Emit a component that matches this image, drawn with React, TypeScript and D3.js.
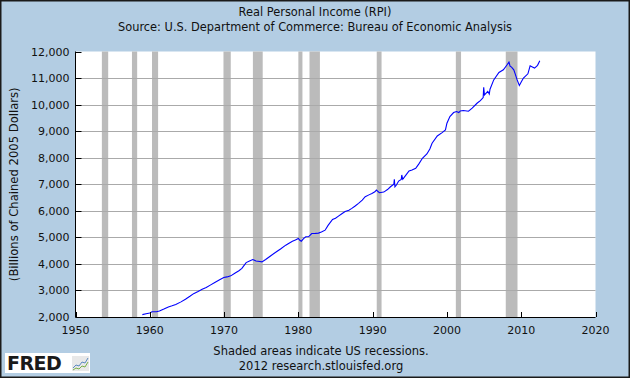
import React, { useEffect } from "react";
import * as d3 from "d3";

const W = 630;
const H = 378;

const TITLE = "Real Personal Income (RPI)";
const SUBTITLE = "Source: U.S. Department of Commerce: Bureau of Economic Analysis";
const Y_TITLE = "(Billions of Chained 2005 Dollars)";
const FOOT1 = "Shaded areas indicate US recessions.";
const FOOT2 = "2012 research.stlouisfed.org";

const xTicks = [1950, 1960, 1970, 1980, 1990, 2000, 2010, 2020];
const yTicks = [2000, 3000, 4000, 5000, 6000, 7000, 8000, 9000, 10000, 11000, 12000];

const recessionStarts = [1953.55, 1957.6, 1960.3, 1969.92, 1973.88, 1980.0, 1981.5, 1990.55, 2001.2, 2007.92];
const recessionEnds = [1954.4, 1958.3, 1961.12, 1970.9, 1975.2, 1980.55, 1982.9, 1991.2, 2001.9, 2009.5];

const rpiYears = [
  1959.0, 1959.5, 1960.0, 1960.3, 1960.9, 1961.3, 1961.9, 1962.5, 1963.0, 1963.5,
  1964.2, 1964.8, 1965.4, 1965.9, 1966.5, 1967.05, 1967.6, 1968.2, 1968.75, 1969.4,
  1969.96, 1970.4, 1970.9, 1971.5, 1972.0, 1972.4, 1972.97, 1973.5, 1973.86, 1974.3,
  1974.8, 1975.1, 1975.6, 1976.2, 1976.9, 1977.6, 1978.3, 1978.8, 1979.2, 1979.6,
  1980.0, 1980.2, 1980.4, 1980.7, 1981.0, 1981.4, 1981.8, 1982.3, 1982.7, 1983.1,
  1983.6, 1984.0, 1984.6, 1985.0, 1985.4, 1985.9, 1986.3, 1986.8, 1987.2, 1987.6,
  1988.1, 1988.6, 1989.0, 1989.5, 1989.9, 1990.3, 1990.5, 1990.9, 1991.5, 1992.0,
  1992.4, 1992.85, 1992.92, 1993.0, 1993.2, 1993.5, 1993.85, 1993.92, 1994.05, 1994.5,
  1994.9, 1995.3, 1995.8, 1996.2, 1996.7, 1997.3, 1997.7, 1998.0, 1998.7, 1999.35,
  1999.8, 2000.0, 2000.4, 2000.9, 2001.3, 2001.6, 2001.8, 2002.2, 2002.9, 2003.4,
  2004.05, 2004.5, 2004.88, 2004.95, 2005.05, 2005.5, 2005.7, 2005.8, 2006.3, 2007.0,
  2007.6, 2008.1, 2008.35, 2008.5, 2008.7, 2009.0, 2009.2, 2009.45, 2009.75, 2010.0,
  2010.3, 2010.9, 2011.2, 2011.5, 2011.8, 2012.2, 2012.5,
];

const rpiValues = [
  2090, 2120, 2150, 2195, 2200, 2225, 2300, 2380, 2420, 2470,
  2570, 2670, 2780, 2880, 2960, 3045, 3110, 3210, 3300, 3400,
  3490, 3510, 3550, 3660, 3740, 3830, 4050, 4120, 4165, 4110,
  4090, 4075, 4165, 4290, 4430, 4560, 4705, 4790, 4855, 4900,
  4960, 4890, 4855, 4950, 5020, 5030, 5145, 5150, 5160, 5200,
  5270, 5450, 5675, 5720, 5800, 5900, 5975, 6020, 6090, 6170,
  6280, 6400, 6530, 6600, 6655, 6715, 6780, 6680, 6705, 6800,
  6905, 7000, 7185, 6900, 6970, 7120, 7180, 7350, 7185, 7350,
  7500, 7540, 7600, 7760, 7980, 8140, 8330, 8545, 8820, 8945,
  9045, 9300, 9550, 9700, 9740, 9700, 9760, 9775, 9750, 9865,
  10050, 10150, 10265, 10655, 10365, 10500, 10400, 10580, 10930, 11210,
  11310, 11500, 11600, 11450, 11410, 11310, 11150, 10930, 10720, 10850,
  11000, 11160, 11460, 11420, 11375, 11480, 11650,
];

const FONT = "'DejaVu Sans', Verdana, sans-serif";

export default function App() {
  useEffect(() => {
    document.body.style.margin = "0";
  }, []);

  const left = 75.5;
  const right = 595.5;
  const top = 51.5;
  const bottom = 317;

  const x = d3.scaleLinear().domain([1950, 2020]).range([left, right]);
  const y = d3.scaleLinear().domain([2000, 12000]).range([bottom, top]);

  const pts = rpiYears.map((yr, i) => [yr, rpiValues[i]] as [number, number]);
  const line = d3
    .line<[number, number]>()
    .x((d) => x(d[0]))
    .y((d) => y(d[1]));

  const fmt = d3.format(",");
  const py = (t: number) => Math.round(y(t)) + 0.5;

  return (
    <svg
      width={W}
      height={H}
      style={{ position: "absolute", left: 0, top: 0, display: "block" }}
      fontFamily={FONT}
    >
      <rect x={0.75} y={0.75} width={W - 1.5} height={H - 1.5} fill="#B3CDE3" stroke="#1a1a1a" strokeWidth={1.5} />
      <text x={315} y={16} textAnchor="middle" fontSize={11.4} fill="#111">{TITLE}</text>
      <text x={315} y={31} textAnchor="middle" fontSize={11.4} fill="#111">{SUBTITLE}</text>

      <rect x={left} y={top} width={right - left} height={bottom - top} fill="#ffffff" />
      {recessionStarts.map((s, i) => (
        <rect key={"r" + i} x={x(s)} y={top} width={x(recessionEnds[i]) - x(s)} height={bottom - top} fill="#BBBBBB" />
      ))}
      {yTicks.slice(1, -1).map((t) => (
        <line key={"g" + t} x1={left} x2={right} y1={py(t)} y2={py(t)} stroke="#AAAAAA" strokeWidth={1} />
      ))}

      <path d={line(pts) || ""} fill="none" stroke="#0000FF" strokeWidth={1.1} />

      <line x1={left} x2={left} y1={top} y2={bottom} stroke="#000" strokeWidth={1} />
      <line x1={left} x2={right} y1={bottom + 0.5} y2={bottom + 0.5} stroke="#000" strokeWidth={1} />

      {yTicks.map((t) => (
        <g key={"y" + t}>
          <line x1={left} x2={left + 6} y1={py(t)} y2={py(t)} stroke="#000" />
          <text x={left - 6} y={y(t) + 4} textAnchor="end" fontSize={11} fill="#111">{fmt(t)}</text>
        </g>
      ))}
      {xTicks.map((t) => (
        <g key={"x" + t}>
          <line x1={Math.round(x(t)) + 0.5} x2={Math.round(x(t)) + 0.5} y1={bottom - 5} y2={bottom} stroke="#000" />
          <text x={x(t)} y={334} textAnchor="middle" fontSize={11} fill="#111">{t}</text>
        </g>
      ))}

      <text transform={`translate(18,${(top + bottom) / 2}) rotate(-90)`} textAnchor="middle" fontSize={11.6} fill="#111">{Y_TITLE}</text>

      <text x={321} y={355} textAnchor="middle" fontSize={11.5} fill="#111">{FOOT1}</text>
      <text x={321} y={370} textAnchor="middle" fontSize={11.5} fill="#111">{FOOT2}</text>

      <g>
        <rect x={5} y={353} width={85} height={20} fill="#ffffff" />
        <text x={7} y={370} fontSize={19} fontWeight="bold" fill="#1a1a1a" fontFamily="'DejaVu Sans', sans-serif" letterSpacing={-0.5}>FRED</text>
        <rect x={72} y={356} width={17} height={15} fill="#e8e8e8" />
        <path d="M73,368 L76,365 L79,366 L82,362 L85,363 L88,358" fill="none" stroke="#5a8ac0" strokeWidth={1} />
        <path d="M73,370 L76,368 L79,369 L82,366 L85,367 L88,362" fill="none" stroke="#7ab04a" strokeWidth={1} />
      </g>
    </svg>
  );
}
